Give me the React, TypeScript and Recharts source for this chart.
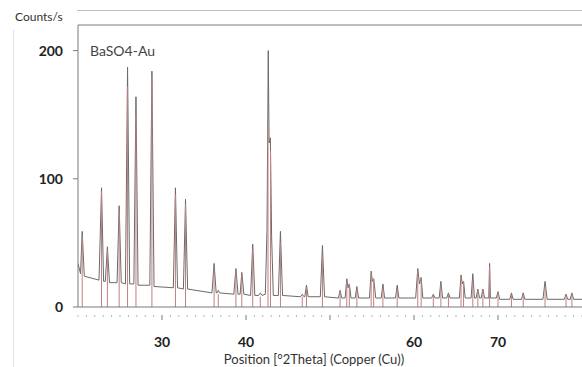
import React from 'react';
import { ComposedChart, Line, XAxis, YAxis, ReferenceLine } from 'recharts';

// measured profile: [2theta, counts/s]
const profilePoints: [number, number][] = [
  [20.0, 34], [20.3, 26], [20.5, 59], [20.75, 24], [22.5, 21], [22.8, 93], [23.05, 20],
  [23.25, 20], [23.5, 47], [23.75, 19], [24.65, 19], [24.9, 79], [25.15, 19], [25.65, 18],
  [25.9, 187], [26.15, 18], [26.65, 18], [26.9, 164], [27.15, 17], [28.55, 17], [28.8, 184],
  [29.05, 16], [31.35, 15], [31.6, 93], [31.85, 15], [32.55, 14], [32.8, 84], [33.05, 14],
  [35.95, 11], [36.2, 34], [36.45, 11], [36.55, 11], [36.7, 13], [36.85, 11], [38.55, 10],
  [38.8, 30], [39.05, 10], [39.3, 10], [39.5, 27], [39.75, 10], [40.55, 9], [40.8, 49],
  [41.05, 9], [41.5, 9], [41.7, 11], [41.9, 9], [42.3, 10], [42.5, 60], [42.65, 200],
  [42.75, 128], [42.9, 132], [43.05, 55], [43.25, 9], [43.85, 9], [44.1, 59], [44.35, 9],
  [46.5, 8], [46.7, 10], [46.9, 8], [47.0, 8], [47.2, 17], [47.4, 8], [48.85, 8],
  [49.1, 48], [49.35, 8], [51.0, 7], [51.2, 13], [51.4, 7], [51.8, 7], [52.0, 22],
  [52.15, 15], [52.3, 18], [52.5, 7], [53.0, 7], [53.2, 16], [53.4, 7], [54.7, 7],
  [54.9, 28], [55.05, 20], [55.2, 22], [55.45, 7], [56.1, 7], [56.3, 18], [56.5, 7],
  [57.8, 7], [58.0, 17], [58.2, 7], [60.2, 7], [60.45, 30], [60.65, 18], [60.85, 23],
  [61.05, 7], [62.1, 7], [62.3, 10], [62.5, 7], [63.0, 7], [63.2, 20], [63.4, 7],
  [63.9, 7], [64.1, 11], [64.3, 7], [65.4, 7], [65.6, 25], [65.75, 18], [65.9, 20],
  [66.1, 7], [66.8, 7], [67.0, 26], [67.2, 7], [67.4, 7], [67.6, 14], [67.8, 7],
  [68.0, 7], [68.2, 14], [68.4, 7], [68.9, 7], [69.0, 34], [69.1, 7], [69.8, 7],
  [70.0, 12], [70.2, 6], [71.4, 6], [71.6, 11], [71.8, 6], [72.8, 6], [73.0, 11],
  [73.2, 6], [75.35, 6], [75.6, 20], [75.85, 6], [77.9, 6], [78.1, 10], [78.3, 6],
  [78.6, 6], [78.8, 11], [79.0, 6], [80.0, 6],
];

// reference pattern sticks: [2theta, height]
const stickPoints: [number, number][] = [
  [20.5, 55], [22.8, 90], [23.5, 44], [24.9, 75], [25.9, 172], [26.9, 150], [28.8, 180],
  [31.6, 88], [32.8, 80], [36.2, 30], [36.7, 10], [38.8, 28], [39.5, 25], [40.8, 45],
  [41.7, 8], [42.62, 140], [42.92, 122], [44.1, 50], [46.7, 8], [47.2, 15], [49.1, 40],
  [51.2, 12], [52.0, 20], [52.3, 18], [53.2, 14], [54.9, 26], [55.2, 22], [56.3, 15],
  [58.0, 14], [60.45, 28], [60.85, 23], [62.3, 9], [63.2, 18], [64.1, 10], [65.6, 24],
  [65.9, 20], [67.0, 20], [67.6, 13], [68.2, 13], [69.0, 32], [70.0, 11], [71.6, 10],
  [73.0, 10], [75.6, 16], [78.1, 9], [78.8, 10],
];

// every degree gets a small tick; these get a long tick (50 has no label in the original)
const xMajorTicks = [30, 40, 50, 60, 70];
const xLabelTicks = [30, 40, 60, 70];
const xAllTicks = [
  20, 21, 22, 23, 24, 25, 26, 27, 28, 29, 30, 31, 32, 33, 34, 35, 36, 37, 38, 39, 40,
  41, 42, 43, 44, 45, 46, 47, 48, 49, 50, 51, 52, 53, 54, 55, 56, 57, 58, 59, 60,
  61, 62, 63, 64, 65, 66, 67, 68, 69, 70, 71, 72, 73, 74, 75, 76, 77, 78, 79, 80,
];
const yTicks = [0, 100, 200];

const profile = profilePoints.map(([t, c]) => ({ t, c }));

const axisColor = '#7a7a7a';
const tickFont = { fontSize: 14, fontWeight: 700, fill: '#222' };

interface TickProps {
  x?: number;
  y?: number;
  payload?: { value: number };
}

const XTick = ({ x = 0, y = 0, payload }: TickProps) => {
  const v = payload ? payload.value : 0;
  const major = xMajorTicks.includes(v);
  return (
    <g>
      <line
        x1={x}
        x2={x}
        y1={y}
        y2={y + (major ? 5 : 2)}
        stroke={major ? axisColor : '#b5b5b5'}
      />
      {xLabelTicks.includes(v) && (
        <text x={x} y={y + 32} textAnchor="middle" fontSize={14} fontWeight={700} fill="#222">
          {v}
        </text>
      )}
    </g>
  );
};

export default function App() {
  return (
    <div
      style={{
        position: 'absolute',
        left: 0,
        top: 0,
        width: 582,
        height: 367,
        background: '#fff',
        fontFamily: 'Lato, "Open Sans", sans-serif',
        overflow: 'hidden',
      }}
    >
      <div style={{ position: 'absolute', left: 77, top: 10, width: 505, height: 1, background: '#bdbdbd' }} />
      <div style={{ position: 'absolute', left: 13, top: 30, width: 1, height: 337, background: '#e2e2e2' }} />
      <div style={{ position: 'absolute', left: 15, top: 9, fontSize: 12, color: '#333' }}>Counts/s</div>
      <div style={{ position: 'absolute', left: 90, top: 42, fontSize: 14, color: '#444' }}>BaSO4-Au</div>

      <ComposedChart
        width={582}
        height={367}
        data={profile}
        margin={{ top: 25, right: 0, bottom: 5, left: 0 }}
      >
        <XAxis
          xAxisId="main"
          dataKey="t"
          type="number"
          domain={[20, 80]}
          ticks={xAllTicks}
          interval={0}
          tick={<XTick />}
          tickLine={false}
          axisLine={{ stroke: axisColor }}
          height={55}
          allowDataOverflow
          label={{
            value: 'Position [°2Theta] (Copper (Cu))',
            position: 'insideBottom',
            offset: 0,
            dx: -16,
            dy: 2,
            style: { fontSize: 13, fill: '#333', fontWeight: 400 },
          }}
        />
        <YAxis
          yAxisId="y"
          type="number"
          domain={[0, 220]}
          ticks={yTicks}
          tick={tickFont}
          tickSize={5}
          tickMargin={10}
          width={78}
          axisLine={{ stroke: axisColor }}
          tickLine={{ stroke: axisColor }}
          allowDataOverflow
        />
        <ReferenceLine xAxisId="main" yAxisId="y" y={220} stroke={axisColor} />
        <Line
          xAxisId="main"
          yAxisId="y"
          type="linear"
          dataKey="c"
          stroke="#6a6a6a"
          strokeWidth={1}
          dot={false}
          isAnimationActive={false}
        />
        {stickPoints.map(([t, h]) => (
          <ReferenceLine
            key={`s-${t}`}
            xAxisId="main"
            yAxisId="y"
            segment={[{ x: t, y: 0 }, { x: t, y: h }]}
            stroke="#bf8080"
            strokeWidth={1}
          />
        ))}
      </ComposedChart>
    </div>
  );
}
